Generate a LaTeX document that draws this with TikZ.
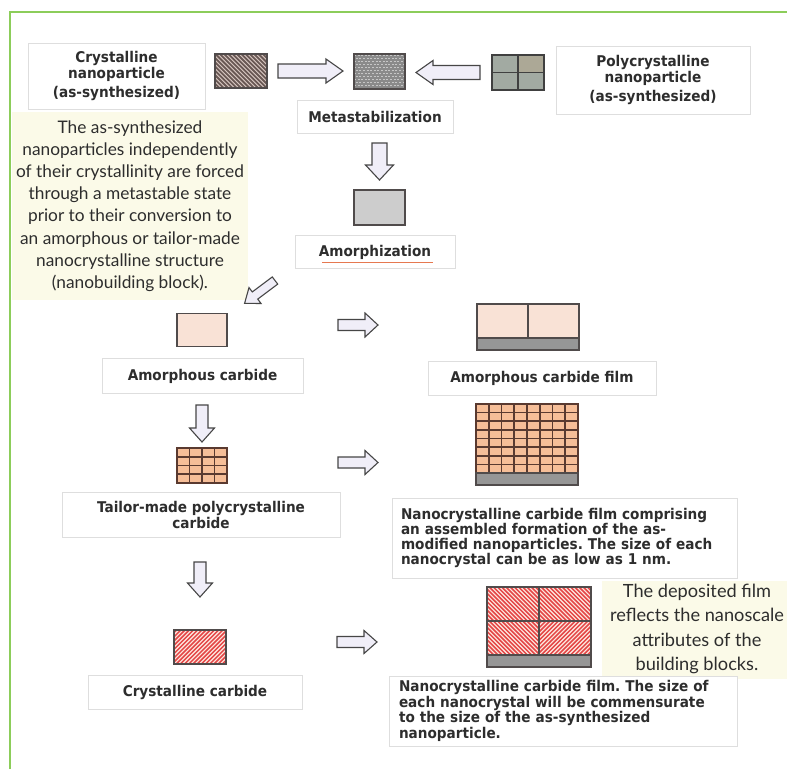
\documentclass[tikz,border=0pt]{standalone}
\usepackage{fontspec}
\setmainfont{Lato}
\newfontfamily\lblfont{DejaVu Sans}[FakeStretch=0.92]
\usetikzlibrary{calc}
\frenchspacing
\definecolor{frameg}{RGB}{140,205,90}
\definecolor{cream}{RGB}{251,250,232}
\definecolor{lblbd}{RGB}{222,222,222}
\definecolor{txt}{RGB}{45,45,45}
\definecolor{arrfill}{RGB}{240,238,248}
\definecolor{arrdraw}{RGB}{70,70,70}
\definecolor{shpdraw}{RGB}{80,75,75}
\definecolor{peach}{RGB}{249,226,214}
\definecolor{orangecell}{RGB}{246,190,152}
\definecolor{gridline}{RGB}{90,58,48}
\definecolor{subgray}{RGB}{150,150,150}
\definecolor{hatchred}{RGB}{228,70,70}
\definecolor{redbg}{RGB}{253,232,224}
\definecolor{hatchbrown}{RGB}{105,88,84}
\definecolor{hatchbg}{RGB}{218,202,196}
\definecolor{metagray}{RGB}{138,138,138}
\definecolor{amgray}{RGB}{205,205,205}
\definecolor{polyg}{RGB}{162,170,162}
\definecolor{polyb}{RGB}{172,168,150}
\definecolor{squig}{RGB}{230,120,80}

\newcommand\hatchdn[4]{% node, colour, step, width : \\ lines
  \begin{scope}
    \clip (#1.north west) rectangle (#1.south east);
    \foreach \n in {0,...,60}{
      \pgfmathsetmacro\kk{-110+\n*#3}
      \draw[#2, line width=#4] ($(#1.north west)+(\kk,-3)$) -- ++(110,110);}
  \end{scope}}
\newcommand\hatchup[4]{% node, colour, step, width : // lines
  \begin{scope}
    \clip (#1.north west) rectangle (#1.south east);
    \foreach \n in {0,...,60}{
      \pgfmathsetmacro\kk{-110+\n*#3}
      \draw[#2, line width=#4] ($(#1.south west)+(\kk,3)$) -- ++(110,-110);}
  \end{scope}}

\tikzset{
  lbl/.style={draw=lblbd, fill=white, line width=0.7, inner sep=0pt, text=txt,
    font=\lblfont\bfseries\fontsize{14.8}{14}\selectfont},
  shp/.style={draw=shpdraw, line width=1.1, inner sep=0pt, outer sep=0pt},
  barr/.style={draw=arrdraw, fill=arrfill, line width=1.1, line join=miter},
  gl/.style={draw=gridline, line width=1.6},
  pics/barrow/.style n args={4}{code={%
    \draw[barr] (0,{-#3/2}) -- ({#1-#4},{-#3/2}) -- ({#1-#4},{-#2/2}) -- (#1,0)
      -- ({#1-#4},{#2/2}) -- ({#1-#4},{#3/2}) -- (0,{#3/2}) -- cycle;}},
}

\begin{document}
\begin{tikzpicture}[x=1pt,y=-1pt]
\useasboundingbox (0,0) rectangle (787,769);
\fill[white] (0,0) rectangle (787,769);

% cream text panels
\fill[cream] (12,112) rectangle (248,300);
\fill[cream] (602,581) rectangle (787,679);

% green frame
\draw[frameg, line width=2.2] (10,769) -- (10,12) -- (787,12);

% ---------- label boxes ----------
\node[lbl, minimum width=177, minimum height=66, align=center] (cnl) at (116.5,76)
  {Crystalline\\nanoparticle\\[4pt](as-synthesized)};
\node[lbl, minimum width=194, minimum height=68, align=center] (pcl) at (653,80)
  {Polycrystalline\\nanoparticle\\[4pt](as-synthesized)};
\node[lbl, minimum width=156, minimum height=33] (msl) at (375,116.5) {Metastabilization};
\node[lbl, minimum width=160, minimum height=33] (aml) at (375,252) {Amorphization};
\draw[squig, line width=0.8] ($(aml.center)+(-53,10)$) -- ($(aml.center)+(58,10)$);
\node[lbl, minimum width=201, minimum height=35] (acl) at (202.5,376) {Amorphous carbide};
\node[lbl, minimum width=228, minimum height=34] (acfl) at (542,378) {Amorphous carbide film};
\node[lbl, minimum width=278, minimum height=45, align=center,
  font=\lblfont\bfseries\fontsize{14.8}{12}\selectfont] (tml) at (201,515)
  {Tailor-made polycrystalline\\carbide};
\node[lbl, minimum width=345, minimum height=80, text width=327, align=left,
  font=\lblfont\bfseries\fontsize{14.8}{14.8}\selectfont] (ncfl) at (564.5,538)
  {Nanocrystalline carbide film comprising\\an assembled formation of the as-\\modified nanoparticles. The size of each\\nanocrystal can be as low as 1 nm.};
\node[lbl, minimum width=214, minimum height=34] (ccl) at (195,692) {Crystalline carbide};
\node[lbl, minimum width=348, minimum height=70, text width=328, align=left,
  font=\lblfont\bfseries\fontsize{14.8}{14}\selectfont] (ccfl) at (563,711)
  {Nanocrystalline carbide film. The size of\\each nanocrystal will be commensurate\\to the size of the as-synthesized\\nanoparticle.};

% ---------- explanatory texts ----------
\node[align=center, text=txt, font=\fontsize{17.3}{22.2}\selectfont, inner sep=0pt] (lefttxt) at (130,206)
  {The as-synthesized\\nanoparticles independently\\of their crystallinity are forced\\through a metastable state\\prior to their conversion to\\an amorphous or tailor-made\\nanocrystalline structure\\(nanobuilding block).};
\node[align=center, text=txt, font=\fontsize{18.2}{24.2}\selectfont, inner sep=0pt] (righttxt) at (697,629)
  {The deposited film\\reflects the nanoscale\\attributes of the\\building blocks.};

% ---------- particle shapes ----------
% crystalline nanoparticle
\node[shp, fill=hatchbg, minimum width=52, minimum height=34] (cn) at (241,71) {};
\hatchdn{cn}{hatchbrown}{4.3}{1.8}
\draw[shp] (cn.north west) rectangle (cn.south east);

% metastable particle
\node[shp, fill=metagray, minimum width=51, minimum height=35] (ms) at (379.5,71.5) {};
\begin{scope}
  \clip (ms.north west) rectangle (ms.south east);
  \foreach \r in {0,...,11}{
    \draw[white!55!gray, line width=0.7, dash pattern=on 2pt off 1.6pt]
      ($(ms.north west)+({mod(\r,2)*1.7},{1.5+\r*3})$) -- ++(60,0);}
\end{scope}
\draw[shp] (ms.north west) rectangle (ms.south east);

% polycrystalline particle
\node[shp, fill=polyg, minimum width=52, minimum height=35] (pc) at (518,72.5) {};
\fill[polyb] (pc.north) rectangle (pc.east);
\draw[draw=black!75, line width=1.8] (pc.north) -- (pc.south) (pc.west) -- (pc.east);
\draw[draw=black!75, line width=1.8] (pc.north west) rectangle (pc.south east);

% amorphous particle
\node[shp, fill=amgray, minimum width=51, minimum height=35] (am) at (379.5,207.5) {};

% amorphous carbide
\node[shp, fill=peach, minimum width=50, minimum height=33] (ac) at (202,330) {};

% amorphous carbide film
\node[shp, fill=peach, minimum width=51, minimum height=34] (acf1) at (502.5,321) {};
\node[shp, fill=peach, minimum width=51, minimum height=34] (acf2) at (553.5,321) {};
\node[shp, fill=subgray, minimum width=102, minimum height=12] (acfs) at (528,344) {};

% tailor-made polycrystalline carbide (4x4)
\node[shp, fill=orangecell, minimum width=50, minimum height=35] (tm) at (202,465.5) {};
\foreach \i in {1,2,3}{
  \draw[gl] ($(tm.north west)!\i/4!(tm.north east)$) -- ($(tm.south west)!\i/4!(tm.south east)$);
  \draw[gl] ($(tm.north west)!\i/4!(tm.south west)$) -- ($(tm.north east)!\i/4!(tm.south east)$);}
\draw[gl] (tm.north west) rectangle (tm.south east);

% nanocrystalline carbide film (8x8)
\node[shp, fill=orangecell, minimum width=102, minimum height=69] (ncf) at (527,438.5) {};
\foreach \i in {1,...,7}{
  \draw[gl] ($(ncf.north west)!\i/8!(ncf.north east)$) -- ($(ncf.south west)!\i/8!(ncf.south east)$);
  \draw[gl] ($(ncf.north west)!\i/8!(ncf.south west)$) -- ($(ncf.north east)!\i/8!(ncf.south east)$);}
\draw[gl] (ncf.north west) rectangle (ncf.south east);
\node[shp, fill=subgray, minimum width=102, minimum height=12] (ncfs) at (527,479) {};

% crystalline carbide
\node[shp, fill=redbg, minimum width=52, minimum height=34] (cc) at (200,647) {};
\hatchup{cc}{hatchred}{4.2}{1.5}
\draw[shp] (cc.north west) rectangle (cc.south east);

% crystalline carbide film (2x2)
\node[shp, fill=redbg, minimum width=52, minimum height=34] (ccf1) at (513,604) {};
\node[shp, fill=redbg, minimum width=52, minimum height=34] (ccf2) at (565,604) {};
\node[shp, fill=redbg, minimum width=52, minimum height=34] (ccf3) at (513,638) {};
\node[shp, fill=redbg, minimum width=52, minimum height=34] (ccf4) at (565,638) {};
\hatchdn{ccf1}{hatchred}{4.2}{1.5}
\hatchdn{ccf2}{hatchred}{4.2}{1.5}
\hatchdn{ccf3}{hatchred}{4.2}{1.5}
\hatchup{ccf4}{hatchred}{4.2}{1.5}
\foreach \c in {ccf1,ccf2,ccf3,ccf4}{\draw[shp] (\c.north west) rectangle (\c.south east);}
\node[shp, fill=subgray, minimum width=104, minimum height=12] (ccfs) at (539,661) {};

% ---------- block arrows ----------
\pic at ($(cn.east)+(11,0)$) {barrow={65}{24}{14}{17}};
\pic[rotate=180] at ($(pc.west)+(-12,0)$) {barrow={64}{24}{14}{17}};
\pic[rotate=-90] at ($(am.north)+(0,-47)$) {barrow={37}{28}{15}{15}};
\pic[rotate=216.9] at ($(ac.north east)+(48,-33)$) {barrow={38}{20}{9}{13}};
\pic at ($(ac.east)+(111,-5)$) {barrow={40}{24}{11}{13}};
\pic[rotate=-90] at ($(tm.north)+(0,-43)$) {barrow={37}{25}{12}{14}};
\pic at ($(tm.east)+(111,-3)$) {barrow={40}{24}{11}{13}};
\pic[rotate=-90] at ($(cc.north)+(0,-68)$) {barrow={35}{25}{12}{14}};
\pic at ($(cc.east)+(111,-5)$) {barrow={40}{23}{11}{13}};
\end{tikzpicture}
\end{document}
